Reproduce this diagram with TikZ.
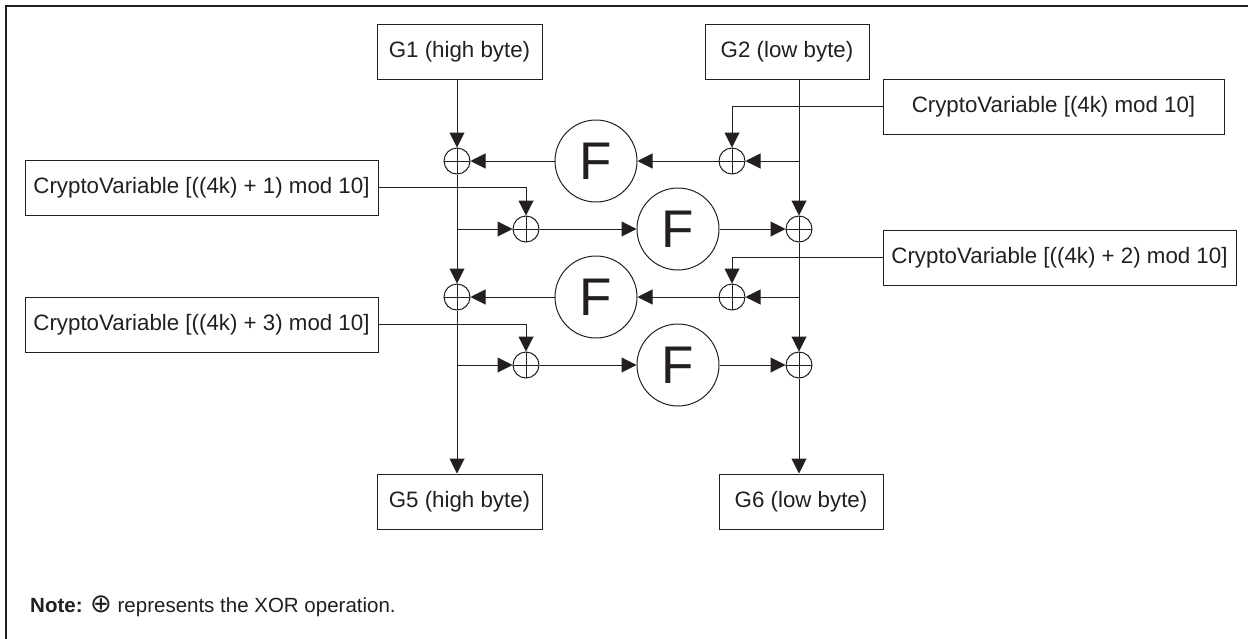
\documentclass[tikz,border=0pt]{standalone}
\usepackage{fontspec}
\setmainfont{Liberation Sans}
\newfontfamily\symfont{DejaVu Sans}
\usetikzlibrary{arrows.meta,calc}
\definecolor{ink}{HTML}{231F20}
\tikzset{
  lbl/.style={draw=ink,line width=1pt,rectangle,minimum height=55pt,inner sep=0pt,
    font=\fontsize{22.3}{26}\selectfont,text=ink},
  xorop/.style={draw=ink,line width=1pt,circle,minimum size=26pt,inner sep=0pt,
    path picture={\draw[ink,line width=1pt]
      (path picture bounding box.north) -- (path picture bounding box.south)
      (path picture bounding box.west) -- (path picture bounding box.east);}},
  fbox/.style={draw=ink,line width=1pt,circle,minimum size=82pt,inner sep=0pt,
    font=\fontsize{53}{60}\selectfont,text=ink},
  arr/.style={draw=ink,line width=1pt,-{Triangle[length=15pt,width=15pt]}},
}
\begin{document}
\begin{tikzpicture}[x=1pt,y=-1pt]
\useasboundingbox (0,0) rectangle (1248,638);
\fill[white] (0,0) rectangle (1248,638);
\draw[overlay,ink,line width=2.5pt] (6,700) -- (6,6) -- (1300,6);

% boxes
\node[lbl,minimum width=165pt] (g1) at (459.5,51.5) {G1 (high byte)};
\node[lbl,minimum width=164pt] (g2) at (787,51.5) {G2 (low byte)};
\node[lbl,minimum width=165pt] (g5) at (459.5,501.5) {G5 (high byte)};
\node[lbl,minimum width=164pt] (g6) at (801,501.5) {G6 (low byte)};
\node[lbl,minimum width=341pt] (c0) at (1053.5,106.5) {CryptoVariable [(4k) mod 10]};
\node[lbl,minimum width=353pt] (c1) at (201.5,187.5) {CryptoVariable [((4k) + 1) mod 10]};
\node[lbl,minimum width=353pt] (c2) at (1059.5,257.5) {CryptoVariable [((4k) + 2) mod 10]};
\node[lbl,minimum width=353pt] (c3) at (201.5,324.5) {CryptoVariable [((4k) + 3) mod 10]};

% xor and F nodes
\node[xorop] (l1) at (457,161) {};
\node[fbox] (f1) at (596,161) {F};
\node[xorop] (r1) at (732,161) {};
\coordinate (b1) at (799,161);

\node[xorop] (x2) at (526,229) {};
\node[fbox] (f2) at (678,229) {F};
\node[xorop] (r2) at (799,229) {};
\coordinate (b2) at (457,229);

\node[xorop] (l3) at (457,297) {};
\node[fbox] (f3) at (596,297) {F};
\node[xorop] (r3) at (732,297) {};
\coordinate (b3) at (799,297);

\node[xorop] (x4) at (526,365) {};
\node[fbox] (f4) at (678,365) {F};
\node[xorop] (r4) at (799,365) {};
\coordinate (b4) at (457,365);

% left column
\draw[arr] (l1 |- g1.south) -- (l1);
\draw[arr] (l1) -- (l3);
\draw[arr] (l3) -- (l3 |- g5.north);
% right column
\draw[arr] (r2 |- g2.south) -- (r2);
\draw[arr] (r2) -- (r4);
\draw[arr] (r4) -- (r4 |- g6.north);

% row 1
\draw[arr] (b1) -- (r1);
\draw[arr] (r1) -- (f1);
\draw[arr] (f1) -- (l1);
\draw[arr] (c0.west) -| (r1);
% row 2
\draw[arr] (b2) -- (x2);
\draw[arr] (x2) -- (f2);
\draw[arr] (f2) -- (r2);
\draw[arr] (c1.east) -| (x2);
% row 3
\draw[arr] (b3) -- (r3);
\draw[arr] (r3) -- (f3);
\draw[arr] (f3) -- (l3);
\draw[arr] (c2.west) -| (r3);
% row 4
\draw[arr] (b4) -- (x4);
\draw[arr] (x4) -- (f4);
\draw[arr] (f4) -- (r4);
\draw[arr] (c3.east) -| (x4);

% note
\node[anchor=base west,inner sep=0pt,font=\fontsize{20.5}{24}\selectfont,text=ink] (note) at (30,612)
  {\textbf{Note:} {\symfont\fontsize{26}{28}\selectfont ⊕} represents the XOR operation.};
\end{tikzpicture}
\end{document}
